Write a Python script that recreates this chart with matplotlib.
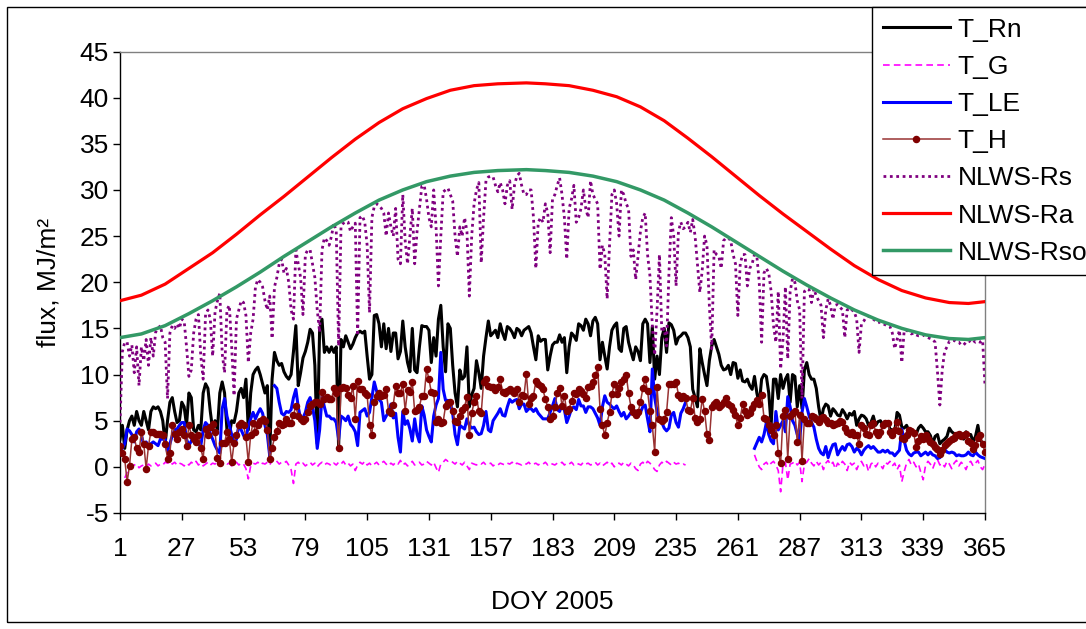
import numpy as np
import matplotlib
matplotlib.use("Agg")
import matplotlib.pyplot as plt
from matplotlib.patches import Rectangle

N = float("nan")

xtick_labels = [1, 27, 53, 79, 105, 131, 157, 183, 209, 235, 261, 287, 313, 339, 365]

t_rn = [
    3, 4.5, 2, 4, 5, 5.5, 4.5, 6, 5, 4.5,
    6, 5, 4, 6, 6.5, 6.3, 6.5, 6, 5, 2.5,
    5, 7, 7.5, 6, 4.8, 5, 7, 6.5, 4.5, 8,
    7.5, 4, 3.8, 4.5, 4, 8, 9, 8.5, 6, 4,
    5, 4, 8, 9.2, 8, 4, 3.5, 5, 4.8, 6,
    8, 8.5, 7.5, 9.5, 4, 8, 10, 10.5, 10.8, 10,
    9, 8, 8.8, 1.2, 9.5, 12.4, 11.5, 11, 11.2, 10.3,
    9.8, 9.5, 10, 12.5, 15.3, 8.8, 10.2, 11.8, 12.5, 13.5,
    14.9, 14.5, 11, 2.5, 14.8, 16, 12.4, 13, 12.4, 13,
    12.4, 13, 2, 13.8, 13, 14.2, 13.5, 12.8, 13.3, 14,
    14.5, 14.7, 14.5, 14.7, 12, 9.5, 10, 16.4, 16.5, 15.5,
    13, 15.5, 12.8, 15, 12.5, 14.5, 14.5, 11.7, 12.5, 15.8,
    13, 11.3, 10.3, 15, 10.5, 10.2, 13, 15.3, 15.2, 15.2,
    14.8, 11.3, 14, 12, 16, 17.5, 13, 10.3, 15.5, 15,
    11, 8, 6.5, 10.5, 9.5, 9.8, 13, 6.5, 7.8, 8.5,
    11.5, 10.2, 8.5, 12, 14, 15.8, 14.2, 14.5, 14.8, 14,
    15.5, 14.5, 13.8, 15.2, 15, 14.6, 14, 15, 14.8, 14.2,
    14.8, 15, 15.2, 14.5, 13, 11.6, 14.2, 13.6, 13.8, 13.8,
    10.5, 12, 13.2, 13.5, 13.5, 14.3, 13.5, 14, 10.2, 13,
    14.5, 14.2, 13.7, 15.5, 15.3, 14.8, 16, 15.5, 14.2, 15.8,
    16.2, 15.5, 11.6, 13.5, 12, 10.6, 13, 14.8, 15.3, 15.6,
    12.8, 12.5, 15, 15.2, 13.5, 12.5, 11.6, 13, 12.5, 11.5,
    15.5, 16, 15.5, 11.3, 15.2, 9.5, 12, 10, 14, 15,
    12.4, 15.6, 15.4, 14.8, 13.3, 14, 14.2, 14.5, 14.5, 14,
    13, 8.4, 7.5, 6.5, 12.8, 11.3, 10, 8.8, 11.5, 13.1,
    13.8, 13, 12.2, 11, 10.5, 10.6, 11, 10, 11.3, 11.2,
    9.6, 10.5, 9.3, 9.2, 9.5, 8.8, 8.4, 9.8, 8, 6.8,
    9.5, 10, 9.8, 8, 4.5, 9.5, 9.5, 7.4, 10, 8.5,
    9.5, 10, 7, 10, 9.8, 6.5, 8.8, 6.3, 10.5, 11.3,
    10, 9.5, 9.5, 8.5, 6.5, 5, 6.3, 6.8, 6.6, 5.5,
    6.3, 6, 5.6, 5.5, 6.2, 5.8, 5.2, 5.8, 5.6, 6,
    4.5, 5.2, 5.6, 5.5, 5.2, 4.5, 4.8, 5.5, 4.5, 4.9,
    5, 4.5, 4.8, 4.9, 4.1, 4, 3.8, 5.9, 5.6, 4.3,
    4.2, 4.5, 3.9, 3.8, 3.8, 3.5, 4.2, 4.5, 4.2, 3.8,
    3.8, 3.4, 2.5, 3.3, 3.5, 2.5, 2.8, 3, 3.3, 4.2,
    3.8, 3.6, 3, 3.4, 3.2, 3, 3.8, 3.5, 3.5, 2.7,
    3.3, 4.5, 3, 2.5, 2.3,
]

t_g = [
    N, N, -1.2, -0.6, -0.3, 0.0, 0.2, 0.3, -0.1, 0.1,
    0.2, 0.0, 0.3, 0.1, 0.2, 0.4, 0.1, 0.3, 0.2, 0.5,
    0.4, 0.6, 0.3, 0.5, 0.2, 0.4, 0.3, 0.1, 0.4, 0.2,
    0.5, 0.3, 0.6, 0.2, 0.4, 0.1, 0.3, 0.5, 0.2, 0.4,
    0.3, 0.6, 0.4, 0.2, 0.5, 0.3, 0.4, 0.1, 0.3, 0.5,
    0.2, 0.4, 0.3, -0.2, -1.3, 0.1, 0.4, 0.3, 0.5, 0.2,
    0.4, 0.3, 0.5, 0.2, 0.7, 0.9, 0.6, 0.3, 0.5, 0.4,
    0.6, 0.2, -0.3, -1.8, 0.3, 0.5, 0.2, 0.4, 0.1, 0.3,
    0.5, 0.2, 0.4, 0.0, 0.3, 0.5, 0.2, 0.4, 0.3, 0.1,
    0.4, 0.2, 0.5, 0.3, 0.6, 0.2, 0.4, 0.1, 0.3, -0.4,
    0.2, 0.5, 0.3, 0.6, 0.2, 0.4, 0.1, 0.3, 0.5, 0.2,
    0.4, 0.6, 0.3, 0.1, 0.4, 0.2, 0.5, 0.3, 0.7, 0.2,
    0.4, 0.1, 0.3, 0.6, 0.2, 0.4, 0.5, 0.2, 0.3, 0.6,
    0.4, 0.2, 0.5, -0.1, -0.6, 0.3, 0.5, 0.8, 0.6, 0.7,
    0.5, 0.3, 0.6, 0.4, 0.2, 0.5, 0.1, -0.3, 0.4, 0.3,
    0.2, 0.4, 0.3, 0.5, 0.2, 0.3, 0.4, 0.1, 0.3, 0.2,
    0.4, 0.3, 0.2, 0.4, 0.3, 0.5, 0.2, 0.4, 0.3, 0.2,
    0.4, 0.3, 0.5, 0.2, 0.3, 0.4, 0.2, 0.4, 0.3, 0.5,
    0.2, 0.4, 0.3, 0.2, 0.4, 0.3, 0.5, 0.2, 0.4, 0.3,
    0.5, 0.2, 0.4, 0.3, 0.2, 0.5, 0.3, 0.4, 0.2, 0.3,
    0.5, 0.2, 0.4, 0.1, 0.3, 0.5, 0.2, 0.4, 0.0, 0.3,
    0.4, 0.2, 0.5, 0.3, 0.1, 0.4, 0.2, -0.2, -0.4, 0.3,
    0.5, 0.2, 0.6, 0.4, 0.1, -0.3, -0.5, 0.2, 0.5, 0.3,
    0.6, 0.4, 0.2, 0.5, 0.3, 0.4, 0.2, 0.3, 0.2, N,
    N, N, N, N, N, N, N, N, N, N,
    N, N, N, N, N, N, N, N, N, N,
    N, N, N, N, N, N, N, 1.3, 0.6, 0.0,
    -0.3, 0.3, 0.5, 0.1, 0.4, 0.6, 0.2, -0.4, -2.7, 0.3,
    0.5, -1.4, 0.3, 0.4, 0.6, 0.2, 0.5, -1.6, 0.3, 0.5,
    0.9, 0.4, 0.1, 0.6, 0.2, 0.5, -0.3, 0.4, 0.7, 0.2,
    0.5, -0.2, 0.4, 0.1, 0.6, 0.3, -0.4, 0.5, 0.2, 0.4,
    -0.3, 0.3, 0.6, 0.1, 0.4, -0.5, 0.3, 0.5, 0.0, 0.4,
    0.2, -0.2, 0.5, 0.3, 0.6, 0.1, 0.4, -0.3, 0.2, -1.6,
    -0.5, 0.4, 0.8, 0.2, 0.5, 0.0, 0.3, -0.6, -1.4, 0.2,
    0.6, 0.3, -0.2, 0.5, 0.8, 0.2, 0.4, 0.0, 0.6, 0.3,
    -0.2, 0.4, 0.7, 0.1, 0.5, 0.2, -0.3, 0.4, 0.6, 0.1,
    0.4, 0.7, 0.0, -0.3, 0.3,
]

t_le = [
    2.2, 2, 2.5, 4.1, 3.9, 3.5, 2.7, 3.8, 4.1, 3.5,
    2.3, 2.7, 2.3, 2.5, 2.7, 2.5, 2.3, 3, 3, 3,
    1.6, 2.5, 3.4, 4, 4.1, 4.5, 4.8, 4.8, 3, 2.3,
    2.8, 3.4, 3, 2.5, 2.3, 4, 4.8, 4.5, 3.6, 3,
    2.3, 1.8, 1.5, 6.3, 7.4, 5.5, 4.5, 3.5, 2.5, 3,
    4.5, 4, 3.4, 3, 4.5, 5.2, 5.9, 5.2, 5.8, 6.3,
    5.8, 4.5, 3.5, 1.2, N, 8.8, 8.5, 7, 5.8, 5.6,
    6, 5.9, 6.2, 7.5, 8.4, 6.5, 5.2, 5.3, 5.9, 7,
    7.5, 6.5, 5, 2, 4, 7.6, 6.5, 5.5, 5.5, 5.2,
    5.2, 4.8, 3, 5.5, 5.3, 5, 5.5, 4.6, 4.3, 3.8,
    2.3, 5.9, 6.1, 6.3, 5.5, 5.9, 7.5, 9.2, 8.2, 7.3,
    7, 5, 5.5, 5.9, 6.8, 5.3, 5.8, 3.2, 1.6, 6,
    4.6, 5, 4.1, 2.8, 5.2, 3.5, 2.7, 6.6, 5.6, 4,
    3.3, 2.7, 5.5, 6.7, 7.4, 12.4, 8.4, 7.2, 7.2, 7,
    5.8, 3.5, 2.4, 4.5, 4.3, 4.1, 5.2, 4.5, 4.2, 4.3,
    3.8, 3.5, 3.6, 4.5, 6, 4, 3.8, 5, 5.4, 5.8,
    6.3, 5.6, 5.5, 6.5, 7.3, 7, 7.2, 7.3, 6.3, 6.8,
    6.8, 6, 6.3, 6.3, 6, 6.3, 5.8, 5.5, 5.2, 5.2,
    5.2, 5.9, 6.6, 7.4, 6.2, 6, 6.8, 6.2, 4.8, 5.5,
    6.3, 6.5, 6.2, 7.3, 6.6, 6.6, 5.9, 6.5, 6.5, 6.3,
    5.8, 5.3, 4.5, 6.5, 7.7, 7, 6.8, 6.5, 6.3, 6.6,
    6, 5.5, 5.9, 5.2, 5.5, 5.9, 6.3, 5.5, 5.5, 5.9,
    6.5, 6.7, 5.2, 3.8, 10.6, 7.5, 6, 5.2, 4.8, 4.2,
    3.9, 4.2, 5.6, 5.9, 4.8, 4.3, 5.8, 6.3, 7, N,
    N, N, N, N, N, N, N, N, N, N,
    N, N, N, N, N, N, N, N, N, N,
    N, N, N, N, N, N, N, 2, 2.6, 3.2,
    2.7, 3.5, 4.8, 3.5, 2.8, 2.5, 6, 4, 4.5, 5,
    3.8, 7.6, 6.5, 5, 4.5, 3.5, 2.8, 5.9, 7.4, 6.5,
    5.5, 4.8, 4.3, 3, 2, 1.5, 1.3, 2.2, 1, 1.8,
    2.4, 2.5, 1.3, 1.8, 2.2, 1.8, 2.4, 2.5, 2.2, 1.6,
    2, 1.8, 1.3, 1.8, 2.1, 2.3, 2, 2.2, 1.9, 1.6,
    1.6, 1.8, 1.6, 1.8, 1.5, 1.5, 1.2, 1.5, 1.8, 4.1,
    2.8, 1.8, 1.4, 1.2, 1.5, 1.6, 1.6, 1.2, 1.4, 1.6,
    1.3, 1.6, 1.3, 1.2, 0.9, 1, 1.6, 1.9, 1.6, 1.5,
    1.6, 1.5, 1.2, 1.3, 1.2, 1.2, 1.3, 1.6, 1.3, 1.2,
    1.6, 1.3, 1.1, 1, 0.9,
]

t_h = [
    2.3, 1.5, 0.8, -1.6, 0.1, 3, 3.2, 2, 1.6, 3.8,
    2.5, -0.2, 2.3, 3.8, 3.8, 3.6, 3.6, 3.6, 3.4, 2.5,
    0.9, 1.5, 4.5, 3.6, 3, 3.8, 4.1, 3.4, 2.3, 4.5,
    3.5, 3, 2.7, 3.4, 2, 0.9, 4.1, 3.4, 4.3, 4.6,
    3.8, 1, 0.4, 2.6, 2.6, 3.8, 3, 0.5, 2.6, 3.5,
    4.5, 4.8, 4.5, 3.2, 0.5, 3.5, 4.8, 3.8, 4.5, 5,
    5.2, 5, 4, 0.8, 2, 3.2, 3.9, 4.8, 4.5, 4.6,
    5.2, 4.8, 4.8, 5.6, 6.6, 5.5, 5.2, 5, 5.2, 5.9,
    6.6, 6.8, 7, 7, 6.8, 8.1, 7.3, 7.6, 7.4, 7.3,
    8.5, 8, 2, 8.5, 8.6, 8.5, 7.8, 7.5, 8.8, 5.2,
    9.3, 8.4, 8.4, 8, 7.8, 4.5, 3.4, 7, 7.7, 8,
    7.7, 7.8, 8.4, 6, 5.8, 6.7, 8.8, 8, 8, 9,
    6.1, 8.3, 8.1, 9.2, 6, 6.2, 6.5, 7.7, 7.7, 10.6,
    9.5, 8.1, 8, 4.9, 5.2, 4.8, 4.9, 6.6, 6.9, 7,
    6, 5, 4.9, 5.5, 6.2, 6.5, 7.6, 3.4, 5.8, 7,
    7.7, 6, 5.8, 9.2, 9.5, 8.8, 8.7, 8.6, 8.3, 8.6,
    9.5, 8.1, 8, 8.2, 8.4, 8.2, 8, 8.4, 7, 7.8,
    7.7, 10.1, 6.8, 7.5, 7.7, 9.3, 9, 8.8, 8.4, 7.3,
    6.5, 5.2, 5.5, 6.5, 8, 8.5, 6.6, 7.7, 6, 6.3,
    7.1, 8, 7.9, 8.4, 8.2, 7.9, 7.5, 8.6, 8.8, 9.2,
    9.9, 10.8, 6.3, 4.5, 3.4, 4.8, 5.9, 7.9, 9, 7.9,
    8.5, 9.2, 9.5, 10, 8, 6.5, 5.9, 5.6, 5.9, 7,
    8.5, 9.5, 8.2, 6, 4.5, 1.6, 8.6, 5.2, 5, 5.2,
    5.9, 9, 9, 9, 9.2, 7.8, 7.5, 7.7, 7.5, 6.2,
    6, 7.5, 5.3, 4.9, 5.2, 7.4, 6, 3.6, 2.9, 6.5,
    6.8, 7, 6.5, 6.7, 7, 7.5, 6.8, 6.6, 6.2, 5.6,
    4.5, 5.3, 6.8, 6, 5.6, 5.8, 6.4, 6.8, 7.2, 6.8,
    7.8, 5.3, 5.2, 4.5, 4, 3.5, 4.5, 1.5, 0.4, 5.5,
    6.2, 0.9, 5.5, 5.8, 6, 2.7, 5.6, 0.6, 5.2, 4.7,
    4.8, 5.5, 5.4, 5.2, 4.9, 5.3, 5.4, 5.1, 4.8, 4.8,
    4.5, 4.6, 4.7, 5, 4.9, 4.2, 3.8, 3.6, 3.8, 3.5,
    3.4, 2.5, 4.5, 4.2, 3.6, 3.4, 4.5, 4.8, 3.8, 3.4,
    3.8, 4.5, 4.7, 4.8, 3.8, 3.4, 4, 4.9, 3.9, 3.1,
    3, 3.4, 4, 3.9, 3.7, 2.1, 2.8, 3.3, 3, 3.4,
    3, 2.7, 2.5, 2.2, 1.9, 1.4, 1.8, 2.4, 2.6, 2.8,
    3, 3.1, 3.4, 3.6, 3.3, 3.4, 3.6, 2.8, 2.6, 1.9,
    2.4, 3.1, 3.4, 2.5, 1.6,
]

nlws_rs = [
    4.8, 12.5, 13.5, 13.5, 12, 13.2, 10.2, 13, 8.8, 13,
    11.5, 13.8, 11, 14, 12, 14.6, 15, 15.3, 14, 13.5,
    7.4, 14.5, 15.3, 15, 15.5, 15, 16, 15.8, 13, 9.8,
    10.5, 14.5, 16, 16.5, 12, 9.5, 16.5, 17, 16, 12,
    16.8, 18, 18.8, 12.3, 10.2, 17, 17.5, 13, 7.7, 16,
    17, 18, 17.8, 16.4, 11.3, 14.5, 16, 19.5, 20.3, 20,
    19.5, 18, 17, 18.5, 13.9, 19.5, 20.5, 22, 22.5, 21,
    21.5, 20, 17, 16, 23.5, 22, 20.5, 16.5, 23, 23.5,
    23.5, 22, 20.5, 17, 14.6, 23.5, 24.8, 24.5, 24, 25,
    26.4, 25.5, 13.1, 26, 26.4, 26.6, 26.5, 25.5, 26, 26.4,
    14.2, 27, 27.2, 26.5, 24, 16.7, 27, 28.2, 28.5, 28.3,
    28, 27.5, 25, 27.5, 26, 25, 28, 22.5, 22, 29.5,
    24.5, 22, 25, 28, 22, 25.5, 28, 30.4, 30.5, 29,
    27, 26, 30, 26, 19.6, 25, 29.8, 30, 30.2, 29.5,
    28.8, 25, 22.8, 26, 25, 27, 25.5, 18.5, 25, 28.5,
    30, 30.8, 22.1, 27, 31, 31.4, 31.5, 31.4, 30.5, 29.8,
    30.8, 30, 28.5, 30.5, 31, 27.9, 30.5, 31.5, 31.8, 30.5,
    29.5, 29.5, 30, 30, 27, 21.5, 26.5, 27, 26.5, 28.5,
    27.5, 23.2, 29, 29.5, 30.5, 31.3, 29.5, 27, 22.5, 28,
    29, 30.5, 26.5, 27, 28, 30, 28, 27, 31, 29.5,
    29, 28.5, 21.4, 24, 23, 18.2, 24, 29.5, 30, 28.5,
    25, 30, 29.5, 28.5, 28, 22.8, 23.5, 20.3, 22.8, 25.5,
    27, 27.5, 23, 20.7, 15.3, 12.1, 17, 23, 14.6, 15,
    13.1, 21, 27, 25, 19.6, 25.5, 26.5, 25.8, 26, 26.5,
    25.4, 26.8, 25, 22, 18.9, 21.3, 25, 24, 17.5, 12.8,
    23.5, 23, 22.8, 21.5, 24.5, 24.8, 24.8, 24.5, 23, 22,
    16.4, 22, 23, 23, 19.6, 21.5, 22, 23, 22.8, 20,
    13.5, 21, 21.5, 21, 19, 15.3, 13.5, 19, 10.6, 13.8,
    19.5, 11.7, 19, 20.4, 20, 18, 17, 7.4, 19, 19.3,
    19.2, 17.8, 19.3, 18.5, 18, 17.5, 14, 17, 18.2, 17.5,
    16, 17.5, 17.6, 17.3, 17, 14, 17, 17.2, 17, 16.8,
    16, 12.4, 15.5, 15.8, 16.2, 16.3, 16.2, 16, 15.8, 15.6,
    15.7, 15.5, 15.4, 15.2, 15.2, 14.5, 12.8, 13.8, 14.8, 11.3,
    14.8, 14.8, 14.6, 14.4, 14.5, 14.3, 14.2, 14.2, 14.3, 14.1,
    14, 13.9, 13.8, 13.5, 10.3, 6.7, 10.5, 12.5, 13, 13.6,
    13.6, 13.7, 13.5, 13.5, 13.2, 13.2, 13.5, 13.7, 13.5, 13.7,
    13.5, 13.6, 13.5, 13.7, 8.8,
]

ra_days = [1, 10, 20, 30, 40, 50, 60, 70, 80, 90, 100, 110, 120, 130, 140, 150,
           160, 172, 180, 190, 200, 210, 220, 230, 240, 250, 260, 270, 280, 290,
           300, 310, 320, 330, 340, 350, 358, 365]
nlws_ra = [18.0, 18.6, 19.8, 21.5, 23.2, 25.2, 27.3, 29.3, 31.4, 33.5, 35.5, 37.3,
           38.8, 39.9, 40.8, 41.3, 41.5, 41.6, 41.5, 41.3, 40.8, 40.1, 39.0, 37.5,
           35.6, 33.6, 31.5, 29.4, 27.4, 25.5, 23.6, 21.8, 20.3, 19.1, 18.3, 17.8,
           17.7, 17.9]
nlws_rso = [14.0, 14.4, 15.3, 16.6, 18.0, 19.5, 21.1, 22.8, 24.4, 26.0, 27.5, 28.9,
            30.0, 30.9, 31.5, 31.9, 32.1, 32.2, 32.1, 31.9, 31.5, 30.9, 30.0, 28.9,
            27.5, 26.0, 24.4, 22.8, 21.2, 19.7, 18.3, 17.0, 15.9, 15.0, 14.3, 13.9,
            13.8, 14.0]

days = np.arange(1, len(t_rn) + 1)

plt.rcParams["font.family"] = ["Liberation Sans", "DejaVu Sans"]
plt.rcParams["axes.unicode_minus"] = False
FS = 19

W, H = 1086, 629
fig = plt.figure(figsize=(W / 100, H / 100), dpi=100)
ax = fig.add_axes([120 / W, 1 - 513 / H, 865 / W, 461.5 / H])

l_rn, = ax.plot(days, t_rn, color="black", lw=2.2, label="T_Rn", zorder=3)
l_g, = ax.plot(days, t_g, color="#FF00FF", lw=1.2, dashes=(4, 2.5), label="T_G", zorder=4)
l_le, = ax.plot(days, t_le, color="#0000FF", lw=2.2, label="T_LE", zorder=5)
l_h, = ax.plot(days, t_h, color="#993333", lw=1.1, marker="o", markersize=4.4,
               markerfacecolor="#800000", markeredgecolor="#800000", label="T_H", zorder=6)
l_rs, = ax.plot(days, nlws_rs, color="#800080", lw=2.0, dashes=(1, 1.3), label="NLWS-Rs", zorder=7)
l_ra, = ax.plot(ra_days, nlws_ra, color="#FF0000", lw=2.3, label="NLWS-Ra", zorder=8)
l_rso, = ax.plot(ra_days, nlws_rso, color="#339966", lw=2.5, label="NLWS-Rso", zorder=9)

ax.set_xlim(1, 365)
ax.set_ylim(-5, 45)
ax.set_yticks(np.arange(-5, 46, 5))
ax.set_xticks(xtick_labels)
ax.set_xticklabels([str(v) for v in xtick_labels])
ax.tick_params(axis="both", labelsize=FS, direction="out", length=5, width=1, color="black")
ax.tick_params(axis="y", pad=3)
ax.tick_params(axis="x", pad=12)
for s in ["top", "right"]:
    ax.spines[s].set_color("#808080")
    ax.spines[s].set_linewidth(1)
for s in ["left", "bottom"]:
    ax.spines[s].set_color("black")
    ax.spines[s].set_linewidth(1)

ax.set_ylabel("flux, MJ/m\u00b2", fontsize=FS, labelpad=14)
ax.set_xlabel("DOY 2005", fontsize=FS, labelpad=21)

# outer chart border
fig.patches.append(Rectangle((7 / W, 1 - 622 / H), 1 - 7 / W + 0.01, (622 - 7) / H,
                             transform=fig.transFigure, fill=False, edgecolor="black",
                             lw=1, zorder=0))

leg = fig.legend(handles=[l_rn, l_g, l_le, l_h, l_rs, l_ra, l_rso],
                 loc="upper left", bbox_to_anchor=(872 / W, 1 - 7 / H),
                 fontsize=FS, frameon=True, fancybox=False, shadow=False,
                 handlelength=2.55, handletextpad=0.3, labelspacing=0.5,
                 borderpad=0.4, borderaxespad=0, numpoints=1)
leg.get_frame().set_edgecolor("black")
leg.get_frame().set_linewidth(1)
leg.get_frame().set_facecolor("white")
leg.get_frame().set_alpha(1)

fig.savefig("out.png", dpi=100)
